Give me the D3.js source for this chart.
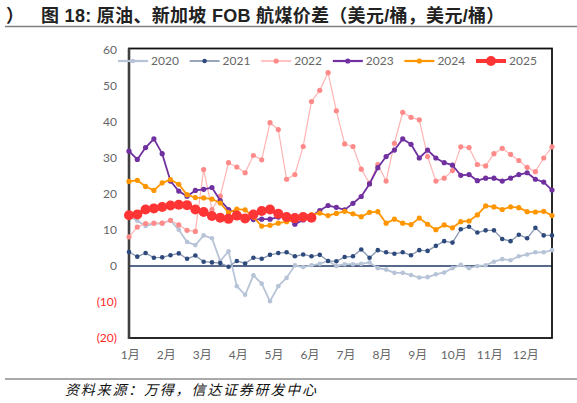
<!DOCTYPE html>
<html>
<head>
<meta charset="utf-8">
<script src="https://cdn.jsdelivr.net/npm/d3@7"></script>
<style>
  body { margin: 0; background: #fff; }
  svg { display: block; }
</style>
</head>
<body>
<svg id="chart" width="577" height="403"></svg>
<script>
// 数据：每年按周（52周）的价差
const years = ['2020', '2021', '2022', '2023', '2024', '2025'];
const monthLabels = ['1月', '2月', '3月', '4月', '5月', '6月', '7月', '8月', '9月', '10月', '11月', '12月'];
const yTicks = [-20, -10, 0, 10, 20, 30, 40, 50, 60];
const yTickLabels = ['(20)', '(10)', '0', '10', '20', '30', '40', '50', '60'];

const s2020 = [13.8, 12.6, 11.1, 11.8, 11.8, 12.7, 10.1, 6.7, 5.8, 8.5, 7.7, 1.4, 4.1, -5.6, -8.0, -2.6, -4.9, -9.8, -5.6, -3.3,
  0.2, -0.3, 0.2, 0.6, 1.4, 0.0, 0.5, 0.5, 0.6, 1.0, -0.6, -1.0, -1.9, -1.9, -2.5, -3.2, -3.1, -2.3, -1.8, -0.6,
  0.3, -0.6, 0.0, 0.2, 1.2, 1.9, 1.6, 2.7, 3.2, 3.8, 3.8, 4.4];
const s2021 = [3.9, 2.6, 3.6, 2.3, 2.4, 3.0, 3.5, 2.0, 2.9, 1.2, 1.0, 0.8, -0.2, 1.4, 0.7, 2.3, 2.0, 3.1, 3.6, 3.8,
  2.7, 3.2, 2.7, 3.1, 1.4, 1.3, 2.5, 2.7, 4.6, 2.3, 4.4, 3.8, 3.4, 3.8, 3.0, 4.4, 4.2, 5.6, 6.9, 6.5,
  10.2, 10.9, 9.3, 9.9, 9.9, 7.5, 6.9, 8.7, 7.7, 10.6, 8.5, 8.5];
const s2022 = [8.1, 10.8, 11.8, 11.9, 11.9, 12.7, 11.4, 9.9, 9.6, 26.8, 15.7, 19.4, 28.7, 27.5, 25.9, 30.7, 29.5, 39.8, 37.9, 24.1,
  25.4, 33.2, 45.7, 48.8, 53.7, 43.1, 33.9, 33.2, 26.9, 23.0, 28.2, 23.6, 34.1, 42.7, 41.3, 40.6, 30.4, 23.6, 24.4, 26.5,
  33.1, 32.9, 28.2, 27.8, 31.2, 32.7, 31.0, 29.3, 27.4, 26.2, 30.0, 33.1];
const s2023 = [31.9, 29.6, 32.9, 35.3, 31.2, 23.6, 20.8, 19.4, 21.0, 21.3, 21.8, 18.2, 15.7, 14.7, 13.6, 12.9, 13.0, 13.0, 13.6, 13.8,
  11.6, 12.8, 13.8, 15.4, 16.8, 16.3, 15.6, 17.4, 19.3, 22.8, 27.3, 30.4, 32.2, 35.3, 33.8, 30.0, 32.2, 30.0, 28.7, 28.0,
  25.2, 25.4, 23.7, 24.4, 24.4, 23.6, 24.4, 25.4, 25.9, 24.1, 23.3, 21.1];
const s2024 = [23.5, 23.8, 22.1, 21.0, 23.1, 24.0, 22.7, 19.8, 19.0, 18.9, 18.6, 17.5, 14.8, 15.8, 15.6, 13.6, 11.1, 11.3, 11.9, 12.3,
  12.7, 14.0, 14.3, 14.7, 14.0, 14.6, 15.2, 14.5, 13.7, 14.9, 15.1, 11.9, 13.0, 11.9, 11.5, 13.3, 11.6, 10.1, 11.4, 10.6,
  12.3, 12.5, 14.2, 16.7, 16.4, 15.7, 16.4, 16.2, 15.1, 15.0, 15.2, 14.0];
const s2025 = [14.1, 14.3, 15.7, 16.0, 16.4, 16.8, 17.0, 16.9, 15.7, 15.0, 13.9, 13.4, 13.1, 14.0, 13.2, 14.3, 15.3, 15.7, 14.5, 13.6,
  13.3, 13.6, 13.4];

const seriesValues = [s2020, s2021, s2022, s2023, s2024, s2025];

// 样式
const styles = [
  { line: '#b7c3d7', dot: '#b7c3d7', lw: 1.8, r: 2.3 },
  { line: '#8696b0', dot: '#2e4a7c', lw: 1.3, r: 2.3 },
  { line: '#ffb4b4', dot: '#ff8a8a', lw: 1.2, r: 2.6 },
  { line: '#7030a0', dot: '#7030a0', lw: 1.8, r: 2.6 },
  { line: '#ff9600', dot: '#ff9600', lw: 1.8, r: 2.6 },
  { line: '#ff3535', dot: '#ff3535', lw: 4, r: 5 }
];

const margin = { top: 50, right: 25, bottom: 65, left: 129 };
const width = 577 - margin.left - margin.right;
const height = 403 - margin.top - margin.bottom;

const svg = d3.select('#chart');

// 标题
svg.append('text')
  .attr('x', 6)
  .attr('y', 22)
  .style('font-family', '"Liberation Sans", "Noto Sans CJK SC", sans-serif')
  .style('font-size', '18px')
  .style('font-weight', 'bold')
  .style('fill', '#222')
  .text('）');
svg.append('text')
  .attr('x', 41)
  .attr('y', 22)
  .style('font-family', '"Liberation Sans", "Noto Sans CJK SC", sans-serif')
  .style('font-size', '18px')
  .style('font-weight', 'bold')
  .style('letter-spacing', '0.3px')
  .style('fill', '#222')
  .text('图 18:  原油、新加坡 FOB 航煤价差（美元/桶，美元/桶）');

svg.append('line')
  .attr('x1', 5).attr('x2', 577)
  .attr('y1', 26.5).attr('y2', 26.5)
  .attr('stroke', '#7f7f7f')
  .attr('stroke-width', 1.5);

// 底部来源
svg.append('line')
  .attr('x1', 5).attr('x2', 577)
  .attr('y1', 379).attr('y2', 379)
  .attr('stroke', '#555')
  .attr('stroke-width', 1.2);

svg.append('text')
  .attr('x', 65)
  .attr('y', 395)
  .style('font-family', '"Noto Sans CJK SC", sans-serif')
  .style('font-size', '14px')
  .style('font-style', 'italic')
  .style('letter-spacing', '1.8px')
  .style('fill', '#111')
  .text('资料来源：万得，信达证券研发中心');

const g = svg.append('g')
  .attr('transform', `translate(${margin.left},${margin.top})`);

// 比例尺
const xScale = d3.scaleLinear().domain([0, 51]).range([0, width]);
const yScale = d3.scaleLinear().domain([-20, 60]).range([height, 0]);

// 坐标轴
const yAxis = d3.axisLeft(yScale)
  .tickValues(yTicks)
  .tickSize(0)
  .tickPadding(12)
  .tickFormat((d, i) => yTickLabels[i]);

g.append('g')
  .attr('class', 'y-axis')
  .call(yAxis)
  .call((a) => a.select('.domain').remove())
  .selectAll('text')
  .style('font-family', '"Lato", "Noto Sans CJK SC", sans-serif')
  .style('font-size', '12px')
  .style('fill', (d) => (d < 0 ? '#ff2a2a' : '#666'));

const monthPos = monthLabels.map((m, i) => (i * 52) / 12 + 0.1);
const xAxis = d3.axisBottom(xScale)
  .tickValues(monthPos)
  .tickSize(0)
  .tickPadding(12)
  .tickFormat((d, i) => monthLabels[i]);

g.append('g')
  .attr('class', 'x-axis')
  .attr('transform', `translate(0,${height})`)
  .call(xAxis)
  .call((a) => a.select('.domain').remove())
  .selectAll('text')
  .style('font-family', '"Lato", "Noto Sans CJK SC", sans-serif')
  .style('font-size', '12px')
  .style('fill', '#666');

// 零线
g.append('line')
  .attr('x1', 0).attr('x2', width)
  .attr('y1', yScale(0)).attr('y2', yScale(0))
  .attr('stroke', '#1f3864')
  .attr('stroke-width', 1.5);

// 边框
g.append('rect')
  .attr('x', 0).attr('y', yScale(60) - 1.5)
  .attr('width', width).attr('height', height - yScale(60) + 1.5)
  .attr('fill', 'none')
  .attr('stroke', '#111')
  .attr('stroke-width', 1.8);
g.append('line')
  .attr('x1', 0).attr('x2', 0)
  .attr('y1', yScale(60) - 1.5).attr('y2', height + 1)
  .attr('stroke', '#404040')
  .attr('stroke-width', 2.6);

// 折线
const line = d3.line()
  .x((d, i) => xScale(i))
  .y((d) => yScale(d));

seriesValues.forEach((vals, k) => {
  const st = styles[k];
  const sg = g.append('g').attr('class', 'series-' + years[k]);
  sg.append('path')
    .datum(vals)
    .attr('fill', 'none')
    .attr('stroke', st.line)
    .attr('stroke-width', st.lw)
    .attr('stroke-linejoin', 'round')
    .attr('d', line);
  sg.selectAll('circle')
    .data(vals)
    .enter()
    .append('circle')
    .attr('cx', (d, i) => xScale(i))
    .attr('cy', (d) => yScale(d))
    .attr('r', st.r)
    .attr('fill', st.dot);
});

// 图例
const legend = svg.append('g').attr('transform', 'translate(118,61)');
years.forEach((name, k) => {
  const st = styles[k];
  const item = legend.append('g').attr('transform', `translate(${k * 71.6},0)`);
  item.append('line')
    .attr('x1', 0).attr('x2', 30)
    .attr('y1', 0).attr('y2', 0)
    .attr('stroke', st.line)
    .attr('stroke-width', k === 5 ? 4 : st.lw + 0.4);
  item.append('circle')
    .attr('cx', 15).attr('cy', 0)
    .attr('r', st.r)
    .attr('fill', st.dot);
  item.append('text')
    .attr('x', 33)
    .attr('y', 0)
    .attr('dy', '0.36em')
    .style('font-family', '"Lato", sans-serif')
    .style('font-size', '12px')
    .style('fill', '#666')
    .text(name);
});
</script>
</body>
</html>
